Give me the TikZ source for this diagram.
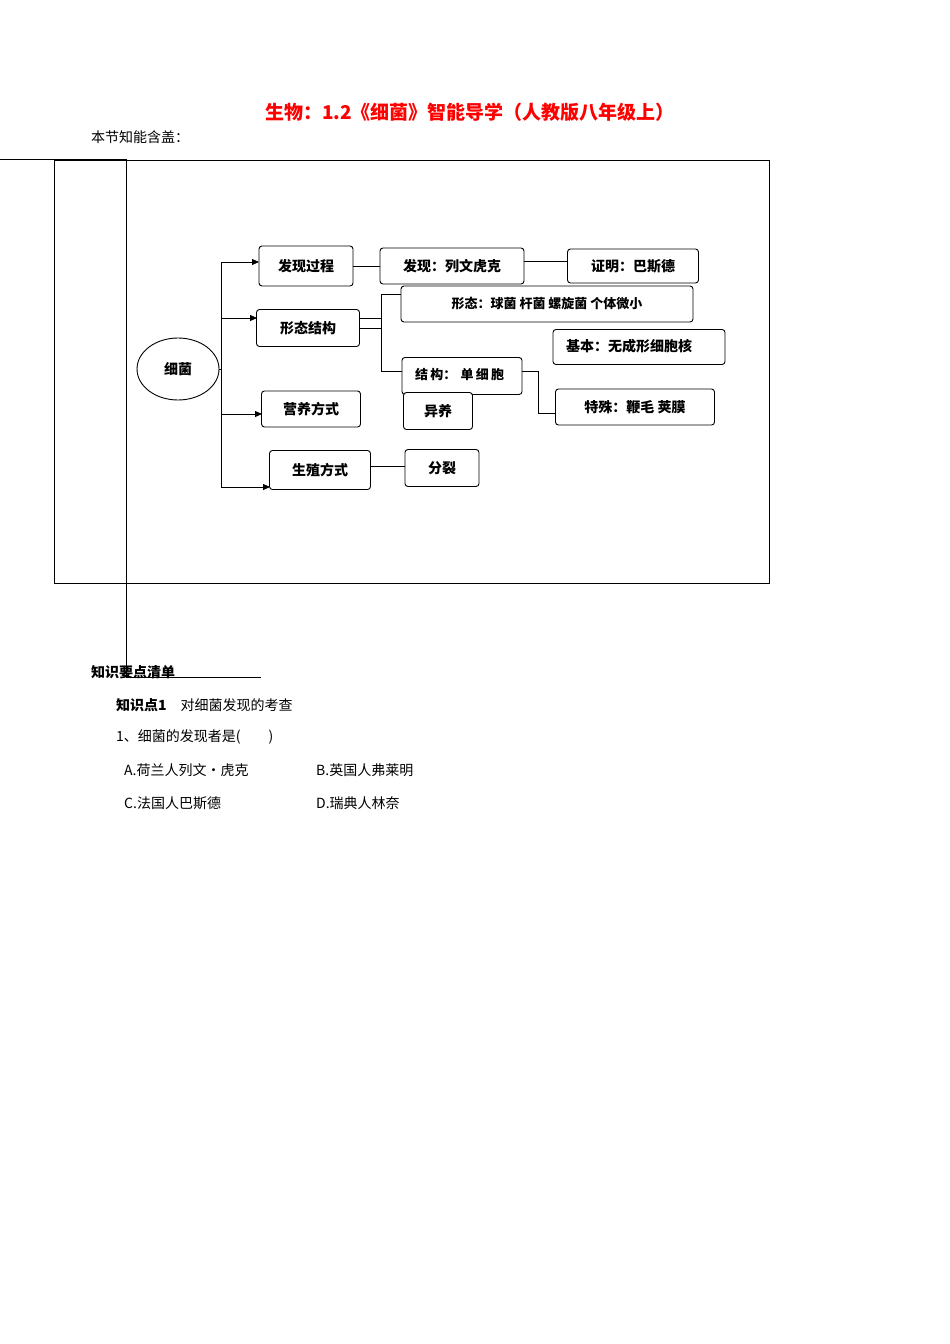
\documentclass[tikz,border=0pt]{standalone}
\usepackage{fontspec}
\setmainfont{Noto Sans CJK SC}
\usetikzlibrary{arrows.meta,shapes.geometric}
\begin{document}
\begin{tikzpicture}[x=1pt,y=-1pt,
  bx/.style={draw,rounded corners=3pt,line width=0.9pt,fill=white,inner sep=0pt,font=\bfseries\fontsize{14}{16}\selectfont},
  ln/.style={line width=0.8pt},
  ar/.style={ln,-{Triangle[length=7pt,width=6pt]}},
  tx/.style={anchor=west,inner sep=0pt,font=\fontsize{14}{16}\selectfont}]
\useasboundingbox (0,0) rectangle (950,1344);
\node[anchor=base,text=red,font=\bfseries\fontsize{19}{22}\selectfont] (title) at (470,119) {生物：1.2《细菌》智能导学（人教版八年级上）};
\node[tx] (intro) at (91,137) {本节知能含盖：};
\draw[ln] (54,160) rectangle (769,583);
\coordinate (h0) at (0,159); \coordinate (h1) at (126,159);
\coordinate (v1) at (126,677); \coordinate (v2) at (261,677);
\draw[ln] (h0) -- (h1) -- (v1) -- (v2);
\node[draw,ellipse,line width=0.9pt,minimum width=82pt,minimum height=62pt,font=\bfseries\fontsize{14}{16}\selectfont] (xj) at (178,369) {细菌};
\node[bx,minimum width=94pt,minimum height=40pt] (fx) at (306,266) {发现过程};
\node[bx,minimum width=144pt,minimum height=36pt] (lw) at (452,266) {发现：列文虎克};
\node[bx,minimum width=131pt,minimum height=34pt] (bs) at (633,266) {证明：巴斯德};
\node[bx,minimum width=292pt,minimum height=36pt,font=\bfseries\fontsize{13}{15}\selectfont] (xt) at (547,304) {形态：球菌\ 杆菌\ 螺旋菌\ 个体微小};
\node[bx,minimum width=103pt,minimum height=37pt] (xtjg) at (308,328) {形态结构};
\node[bx,minimum width=172pt,minimum height=35pt] (jb) at (639,347) {};
\node[anchor=north west,inner sep=0pt,font=\bfseries\fontsize{14}{17}\selectfont,text width=160pt] (jbt) at (566,339) {基本：无成形细胞核};
\node[bx,minimum width=120pt,minimum height=37pt] (jg) at (462,376) {};
\node[anchor=north west,inner sep=0pt,font=\bfseries\fontsize{13}{17}\selectfont,text width=100pt] (jgt) at (415,368) {结\,构：\ 单\,细\,胞};
\node[bx,minimum width=69pt,minimum height=37pt] (yy) at (438,411) {异养};
\node[bx,minimum width=99pt,minimum height=36pt] (yyfs) at (311,409) {营养方式};
\node[bx,minimum width=159pt,minimum height=36pt] (ts) at (635,407) {特殊：鞭毛\ 荚膜};
\node[bx,minimum width=101pt,minimum height=39pt] (sz) at (320,470) {生殖方式};
\node[bx,minimum width=74pt,minimum height=37pt] (fl) at (442,468) {分裂};
\coordinate (t1) at (221,262); \coordinate (t4) at (221,487);
\draw[ln] (xj.east) -- (221,369);
\draw[ln] (t1) -- (t4);
\draw[ar] (t1) -- (259,262);
\draw[ar] (221,318) -- (257,318);
\draw[ar] (221,414) -- (262,414);
\draw[ar] (t4) -- (270,487);
\draw[ln] (fx.east |- 0,266) -- (lw.west |- 0,266);
\draw[ln] (lw.east |- 0,261) -- (bs.west |- 0,261);
\draw[ln] (xtjg.east |- 0,318) -- (381,318);
\draw[ln] (xtjg.east |- 0,328) -- (381,328);
\draw[ln] (xt.west |- 0,294) -- (381,294) -- (381,371) -- (jg.west |- 0,371);
\draw[ln] (jg.east |- 0,371) -- (538,371) -- (538,413) -- (ts.west |- 0,413);
\draw[ln] (sz.east |- 0,466) -- (fl.west |- 0,466);
\node[tx,font=\bfseries\fontsize{14}{16}\selectfont] (q0) at (91,672) {知识要点清单};
\node[tx] (q1) at (116,705) {\textbf{知识点1}\quad 对细菌发现的考查};
\node[tx] (q2) at (116,737) {1、细菌的发现者是(\quad\quad)};
\node[tx] (qa) at (124,770) {A.荷兰人列文·虎克};
\node[tx] (qb) at (316,770) {B.英国人弗莱明};
\node[tx] (qc) at (124,803) {C.法国人巴斯德};
\node[tx] (qd) at (316,803) {D.瑞典人林奈};
\end{tikzpicture}
\end{document}
